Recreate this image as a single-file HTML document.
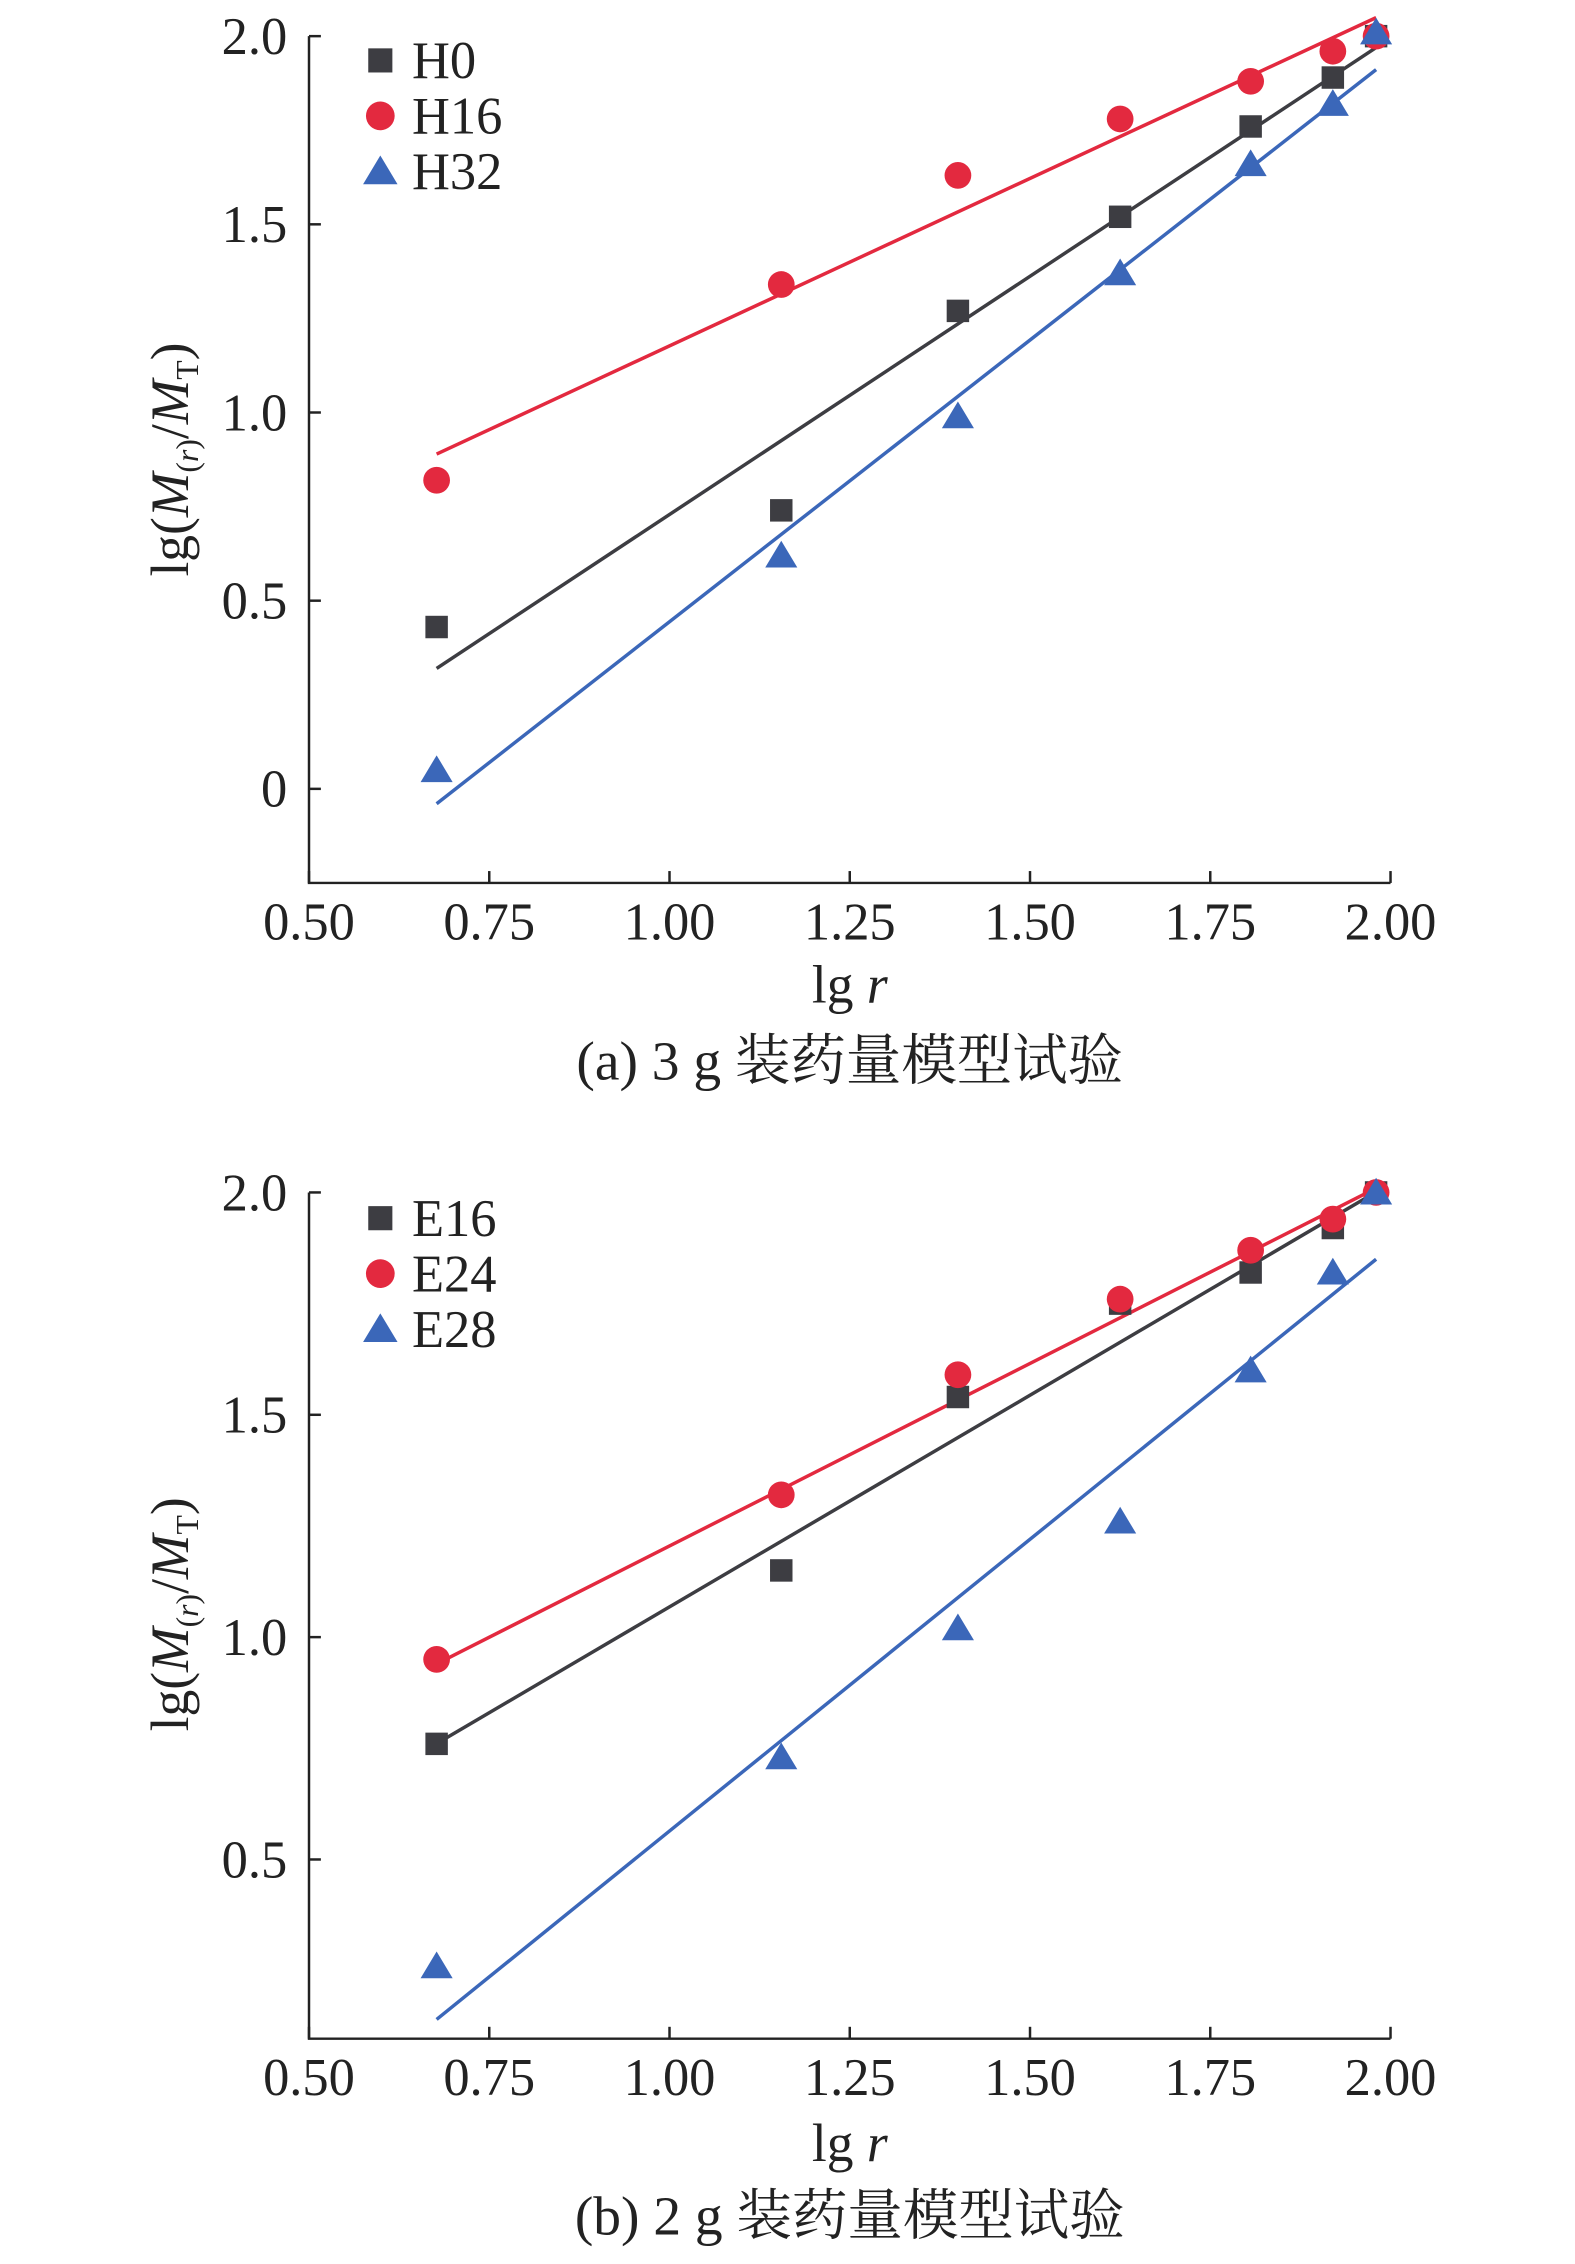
<!DOCTYPE html>
<html><head><meta charset="utf-8"><style>
html,body{margin:0;padding:0;background:#fff;}
svg{display:block;}
text{font-family:"Liberation Serif","Noto Serif CJK SC",serif;fill:#222;}
</style></head><body>
<svg id="chart" width="1575" height="2264" viewBox="0 0 1575 2264" xmlns="http://www.w3.org/2000/svg"><g id="root" transform="scale(0.9904)"></g></svg>
<script>
const xVals = [0.677, 1.155, 1.40, 1.625, 1.806, 1.92, 1.98];
const xTicks = ["0.50","0.75","1.00","1.25","1.50","1.75","2.00"];
const aYTicks = ["0","0.5","1.0","1.5","2.0"];
const bYTicks = ["0.5","1.0","1.5","2.0"];
const aNames = ["H0","H16","H32"];
const H0 = [0.43, 0.74, 1.27, 1.52, 1.76, 1.89, 2.0];
const H16 = [0.82, 1.34, 1.63, 1.78, 1.88, 1.96, 2.0];
const H32 = [0.05, 0.62, 0.99, 1.37, 1.66, 1.82, 2.01];
const aSlopes = [1.266, 0.890, 1.497];
const aIntercepts = [-0.537, 0.287, -1.053];
const bNames = ["E16","E24","E28"];
const E16 = [0.76, 1.15, 1.54, 1.75, 1.82, 1.92, 2.0];
const E24 = [0.95, 1.32, 1.59, 1.76, 1.87, 1.94, 2.0];
const E28 = [0.26, 0.73, 1.02, 1.26, 1.60, 1.82, 2.0];
const bSlopes = [0.952, 0.821, 1.312];
const bIntercepts = [0.116, 0.384, -0.748];

const NS="http://www.w3.org/2000/svg";
const svg=document.getElementById('root');
const colors=["#3d3d42","#e3293f","#3b67b9"];
const shapes=["square","circle","triangle"];
function mk(tag,attrs,parent){const e=document.createElementNS(NS,tag);for(const k in attrs)e.setAttribute(k,attrs[k]);(parent||svg).appendChild(e);return e;}
function marker(g,shape,cx,cy,col,s){
  let e;
  if(shape==="square"){e=mk('rect',{x:cx-s*0.42,y:cy-s*0.42,width:s*0.84,height:s*0.84,fill:col},g);}
  else if(shape==="circle"){e=mk('circle',{cx:cx,cy:cy,r:s*0.5,fill:col},g);}
  else {e=mk('polygon',{points:`${cx},${cy-s*0.55} ${cx-s*0.6},${cy+s*0.45} ${cx+s*0.6},${cy+s*0.45}`,fill:col},g);}
  return e;
}
function panel(id,cfg){
  const g=mk('g',{});
  
  
  const X0=312,X1=1404;
  const sx=v=>X0+(v-0.5)/(1.5)*(X1-X0);
  const sy=v=>cfg.yTop+(cfg.yMax-v)*cfg.ppu;
  const yb=sy(cfg.yMin);
  const ax=mk('path',{d:`M${X0},${sy(cfg.yMax)} L${X0},${yb} L${X1},${yb}`,fill:'none',stroke:'#222','stroke-width':2.5},g);
  
  
  xTicks.forEach(t=>{const x=sx(parseFloat(t));
    mk('line',{x1:x,y1:yb,x2:x,y2:yb-12,stroke:'#222','stroke-width':2.5},g);
    const tx=mk('text',{x:x,y:yb+57,'font-size':53,'text-anchor':'middle'},g);tx.textContent=t;
    
    
  });
  cfg.yTicks.forEach(t=>{const y=sy(parseFloat(t));
    mk('line',{x1:X0,y1:y,x2:X0+12,y2:y,stroke:'#222','stroke-width':2.5},g);
    const tx=mk('text',{x:290,y:y+18,'font-size':53,'text-anchor':'end'},g);tx.textContent=t;
    
    
  });
  const xl=mk('text',{x:858,y:cfg.xlY,'font-size':54,'text-anchor':'middle'},g);
  xl.innerHTML='lg <tspan font-style="italic">r</tspan>';
  
  
  const yc=cfg.ylY;
  const yl=mk('text',{x:0,y:0,'font-size':54,'text-anchor':'middle',transform:`translate(190,${yc}) rotate(-90)`},g);
  yl.innerHTML='lg(<tspan font-style="italic">M</tspan><tspan font-size="32" dy="10">(<tspan font-style="italic">r</tspan>)</tspan><tspan dy="-10">/</tspan><tspan font-style="italic">M</tspan><tspan font-size="32" dy="10">T</tspan><tspan dy="-10">)</tspan>';
  
  
  const cap=mk('text',{x:858,y:cfg.capY,'font-size':56,'text-anchor':'middle'},g);
  cap.textContent=cfg.caption;
  
  
  cfg.series.forEach((ser,i)=>{
    const xa=0.677,xb=1.98;
    const ln=mk('line',{x1:sx(xa),y1:sy(cfg.slopes[i]*xa+cfg.ints[i]),x2:sx(xb),y2:sy(cfg.slopes[i]*xb+cfg.ints[i]),stroke:colors[i],'stroke-width':3.5},g);
    
    
  });
  cfg.series.forEach((ser,i)=>{
    ser.forEach((v,j)=>{
      const m=marker(g,shapes[i],sx(xVals[j]),sy(v),colors[i],27);
      
      
    });
    const ly=cfg.legY+i*56;
    const lm=marker(g,shapes[i],384,ly,colors[i],29);
    
    
    const lt=mk('text',{x:416,y:ly+18,'font-size':53},g);lt.textContent=cfg.names[i];
    
    
  });
}
panel('panel-a',{yTop:36.5,yMax:2.0,yMin:-0.25,ppu:380,yTicks:aYTicks,series:[H0,H16,H32],slopes:aSlopes,ints:aIntercepts,names:aNames,xlY:1012,ylY:464,capY:1090,caption:'(a) 3 g 装药量模型试验',legY:61});
panel('panel-b',{yTop:1204,yMax:2.0,yMin:0.097,ppu:449,yTicks:bYTicks,series:[E16,E24,E28],slopes:bSlopes,ints:bIntercepts,names:bNames,xlY:2182,ylY:1630,capY:2256,caption:'(b) 2 g 装药量模型试验',legY:1230});
</script>
</body></html>
